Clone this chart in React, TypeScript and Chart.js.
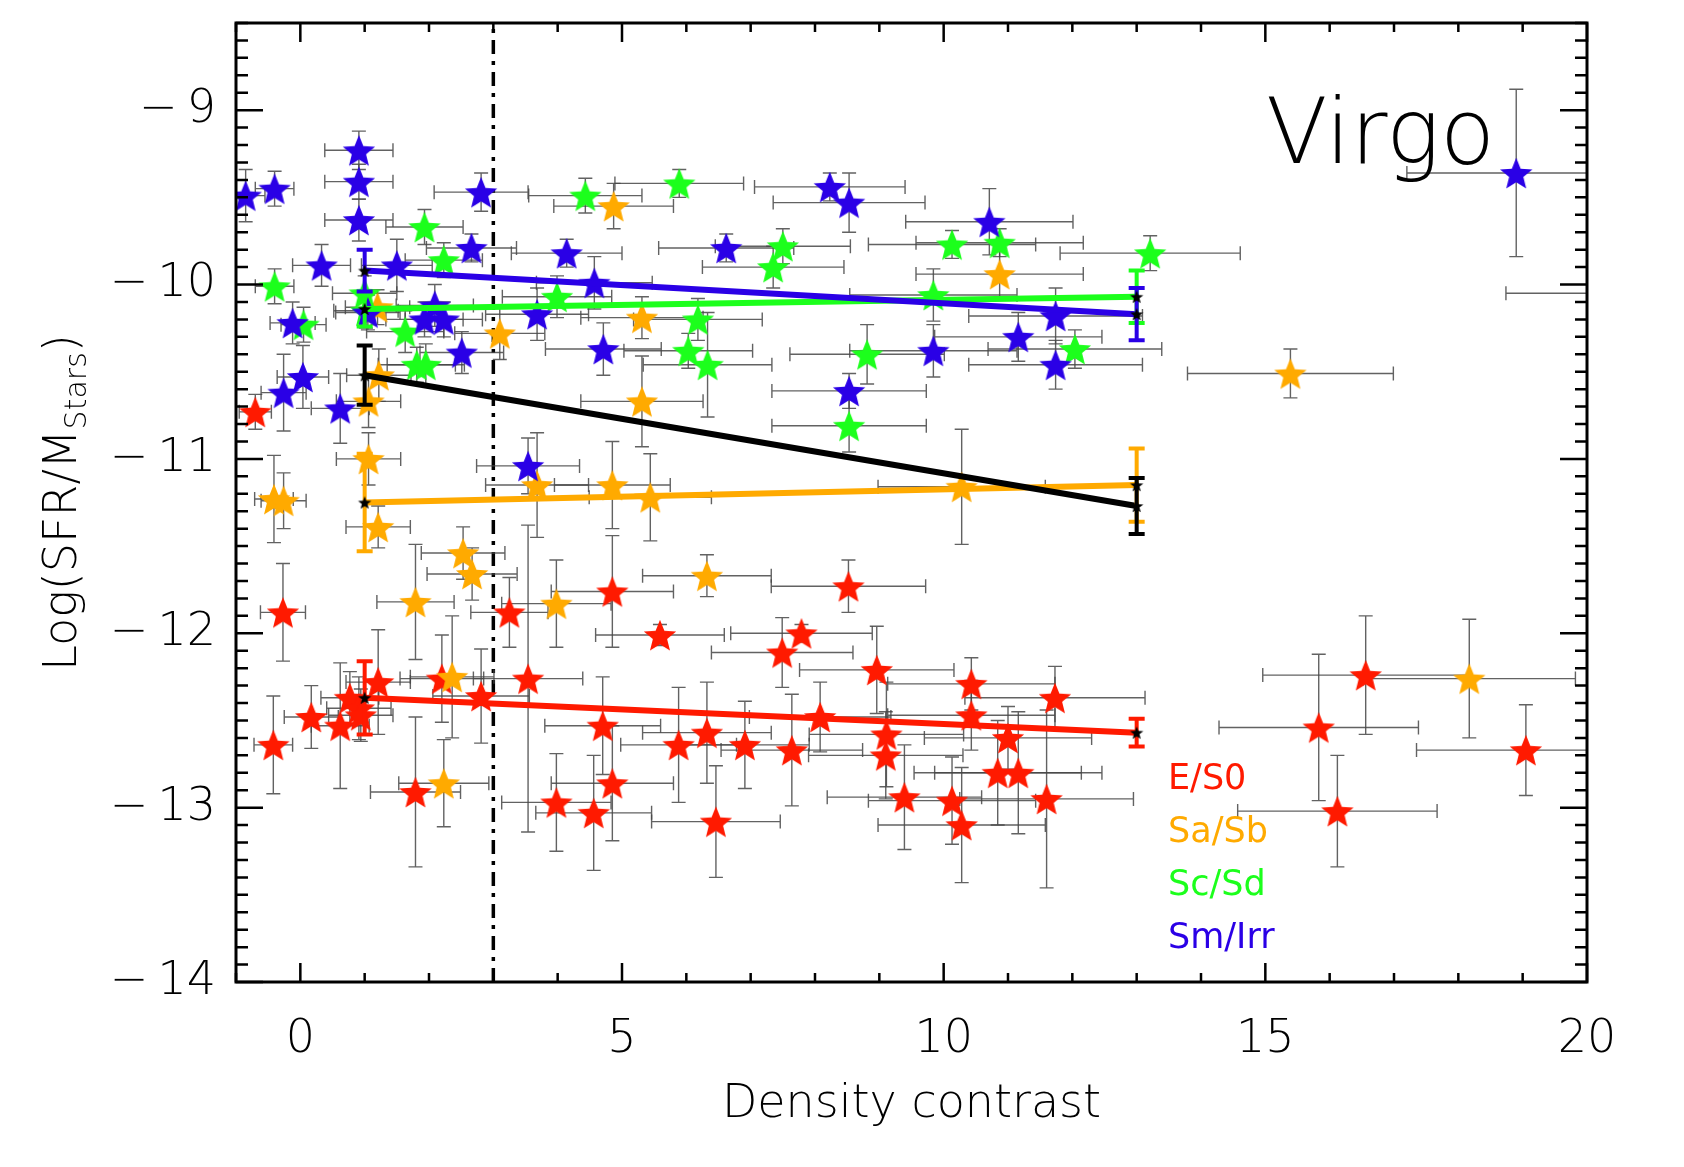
import React, { useEffect, useRef } from 'react';
import { Chart, registerables } from 'chart.js';

Chart.register(...registerables);

// [density contrast, log(SFR/M*), x error, y error]
type Pt = [number, number, number, number];

const E_S0: Pt[] = [
  [-0.70, -10.73, 0.25, 0.10], [-0.27, -11.88, 0.35, 0.28], [-0.42, -12.64, 0.30, 0.28],
  [0.17, -12.48, 0.42, 0.18], [0.62, -12.53, 0.45, 0.36], [0.77, -12.37, 0.45, 0.15],
  [0.91, -12.43, 0.50, 0.18], [0.94, -12.47, 0.50, 0.15], [1.21, -12.28, 0.50, 0.30],
  [2.20, -12.26, 0.65, 0.25], [2.81, -12.36, 0.75, 0.27], [1.79, -12.91, 0.70, 0.43],
  [3.25, -11.88, 0.60, 0.20], [3.54, -12.26, 0.85, 0.88], [4.85, -11.76, 0.95, 0.32],
  [5.59, -12.01, 1.00, 0.06], [4.70, -12.53, 0.90, 0.28], [4.85, -12.86, 0.95, 0.33],
  [3.98, -12.97, 0.85, 0.28], [4.56, -13.03, 0.90, 0.33], [5.88, -12.64, 0.90, 0.33],
  [6.32, -12.57, 1.00, 0.29], [6.91, -12.64, 1.00, 0.25], [6.46, -13.08, 1.00, 0.32],
  [8.52, -11.73, 1.20, 0.15], [7.79, -12.00, 1.10, 0.05], [7.49, -12.11, 1.10, 0.20],
  [8.96, -12.21, 1.20, 0.25], [10.43, -12.29, 1.30, 0.15], [11.73, -12.37, 1.40, 0.18],
  [8.08, -12.48, 1.10, 0.20], [10.43, -12.47, 1.30, 0.20], [9.11, -12.58, 1.20, 0.30],
  [11.00, -12.60, 1.30, 0.18], [7.64, -12.67, 1.10, 0.32], [9.10, -12.70, 1.20, 0.25],
  [10.84, -12.80, 1.30, 0.30], [11.16, -12.80, 1.30, 0.35], [9.39, -12.94, 1.20, 0.30],
  [10.13, -12.96, 1.30, 0.25], [11.60, -12.95, 1.35, 0.51], [10.28, -13.10, 1.30, 0.33],
  [16.56, -12.24, 1.60, 0.34], [15.83, -12.54, 1.55, 0.42], [16.12, -13.02, 1.55, 0.32],
  [19.05, -12.67, 1.70, 0.26],
];

const SA_SB: Pt[] = [
  [-0.41, -11.23, 0.30, 0.25], [-0.26, -11.24, 0.35, 0.16], [1.06, -11.00, 0.50, 0.15],
  [1.21, -11.39, 0.50, 0.12], [2.53, -11.54, 0.65, 0.15], [2.67, -11.66, 0.70, 0.15],
  [1.79, -11.82, 0.60, 0.33], [3.98, -11.83, 0.85, 0.25], [6.32, -11.67, 1.00, 0.12],
  [2.36, -12.25, 0.65, 0.35], [2.23, -12.86, 0.70, 0.25], [3.68, -11.15, 0.80, 0.30],
  [4.85, -11.15, 0.90, 0.25], [5.44, -11.22, 0.95, 0.25], [10.28, -11.16, 1.30, 0.33],
  [4.87, -9.55, 0.93, 0.13], [3.10, -10.28, 0.70, 0.15], [5.31, -10.19, 0.95, 0.12],
  [5.31, -10.67, 0.95, 0.26], [1.20, -10.13, 0.50, 0.10], [1.22, -10.52, 0.50, 0.15],
  [1.06, -10.67, 0.50, 0.15], [10.87, -9.94, 1.30, 0.15], [15.39, -10.51, 1.60, 0.14],
  [18.17, -12.26, 1.65, 0.34],
];

const SC_SD: Pt[] = [
  [-0.40, -10.01, 0.30, 0.10], [0.05, -10.23, 0.35, 0.10], [1.93, -9.67, 0.60, 0.10],
  [2.23, -9.86, 0.60, 0.10], [1.00, -10.05, 0.50, 0.10], [1.02, -10.15, 0.50, 0.10],
  [1.63, -10.27, 0.60, 0.12], [1.81, -10.46, 0.60, 0.10], [1.95, -10.46, 0.60, 0.12],
  [4.43, -9.49, 0.88, 0.10], [5.89, -9.42, 1.00, 0.08], [7.50, -9.78, 1.05, 0.10],
  [7.35, -9.90, 1.10, 0.12], [3.99, -10.07, 0.85, 0.12], [6.18, -10.20, 1.00, 0.12],
  [6.03, -10.38, 1.00, 0.10], [6.33, -10.46, 1.00, 0.30], [8.81, -10.40, 1.20, 0.17],
  [8.53, -10.81, 1.20, 0.15], [9.84, -10.06, 1.30, 0.15], [10.13, -9.77, 1.30, 0.08],
  [10.87, -9.76, 1.30, 0.08], [13.21, -9.82, 1.40, 0.10], [12.04, -10.37, 1.35, 0.11],
];

const SM_IRR: Pt[] = [
  [-0.85, -9.49, 0.30, 0.15], [-0.40, -9.45, 0.30, 0.10], [0.91, -9.23, 0.53, 0.11],
  [0.91, -9.41, 0.53, 0.10], [0.91, -9.63, 0.53, 0.12], [2.81, -9.47, 0.73, 0.11],
  [2.66, -9.79, 0.70, 0.08], [0.33, -9.89, 0.45, 0.12], [1.50, -9.89, 0.55, 0.15],
  [1.05, -10.16, 0.50, 0.10], [-0.12, -10.22, 0.35, 0.12], [2.09, -10.12, 0.60, 0.12],
  [1.93, -10.20, 0.60, 0.10], [2.23, -10.20, 0.60, 0.10], [2.51, -10.39, 0.65, 0.12],
  [0.04, -10.53, 0.40, 0.18], [-0.26, -10.62, 0.35, 0.22], [0.62, -10.71, 0.45, 0.20],
  [3.54, -11.04, 0.80, 0.16], [3.68, -10.17, 0.80, 0.15], [4.14, -9.82, 0.86, 0.08],
  [4.57, -9.99, 0.90, 0.15], [4.71, -10.37, 0.90, 0.15], [6.62, -9.79, 1.05, 0.08],
  [8.23, -9.44, 1.17, 0.08], [8.53, -9.53, 1.18, 0.17], [8.53, -10.61, 1.20, 0.10],
  [9.84, -10.38, 1.30, 0.15], [10.71, -9.64, 1.30, 0.19], [11.74, -10.18, 1.35, 0.16],
  [11.16, -10.30, 1.30, 0.14], [11.74, -10.46, 1.35, 0.14], [18.90, -9.36, 1.70, 0.48],
  [20.60, -10.05, 1.86, 0.00],
];

// Mean trends at the two density bins
const FIT_X = [1, 13];
const FIT_E_S0 = [-12.37, -12.57];
const FIT_E_S0_ERR = [0.21, 0.08];
const FIT_SA_SB = [-11.25, -11.15];
const FIT_SA_SB_ERR = [0.28, 0.21];
const FIT_SC_SD = [-10.14, -10.07];
const FIT_SC_SD_ERR = [0.10, 0.15];
const FIT_SM_IRR = [-9.92, -10.17];
const FIT_SM_IRR_ERR = [0.12, 0.15];
const FIT_ALL = [-10.52, -11.27];
const FIT_ALL_ERR = [0.17, 0.16];

const X_TICKS = [0, 5, 10, 15, 20];
const Y_TICKS = [-14, -13, -12, -11, -10, -9];
const X_RANGE = [-1, 20];
const Y_RANGE = [-14, -8.5];
const DIVIDER_X = 3;
const LEGEND_LABELS = ['E/S0', 'Sa/Sb', 'Sc/Sd', 'Sm/Irr'];
const PANEL_LABEL = 'Virgo';
const X_TITLE = 'Density contrast';

const RED = '#ff1a00';
const ORANGE = '#ffaa00';
const GREEN = '#1cff1c';
const BLUE = '#2a00e6';
const COLORS = [RED, ORANGE, GREEN, BLUE];
const FONT = '"DejaVu Sans", "Liberation Sans", sans-serif';

function makeStar(color: string, r: number, inner: number): HTMLCanvasElement {
  const s = Math.ceil(r * 2) + 2;
  const c = document.createElement('canvas');
  c.width = s;
  c.height = s;
  const g = c.getContext('2d')!;
  g.fillStyle = color;
  g.beginPath();
  const cx = s / 2;
  const cy = s / 2 + r * 0.1;
  for (let i = 0; i < 10; i++) {
    const a = -Math.PI / 2 + (i * Math.PI) / 5;
    const rr = i % 2 === 0 ? r : r * inner;
    const px = cx + rr * Math.cos(a);
    const py = cy + rr * Math.sin(a);
    if (i === 0) g.moveTo(px, py);
    else g.lineTo(px, py);
  }
  g.closePath();
  g.fill();
  return c;
}

const SERIES = [E_S0, SA_SB, SC_SD, SM_IRR];
const FITS: [number[], number[], string][] = [
  [FIT_E_S0, FIT_E_S0_ERR, RED],
  [FIT_SA_SB, FIT_SA_SB_ERR, ORANGE],
  [FIT_SC_SD, FIT_SC_SD_ERR, GREEN],
  [FIT_SM_IRR, FIT_SM_IRR_ERR, BLUE],
  [FIT_ALL, FIT_ALL_ERR, '#000000'],
];

const decorPlugin = {
  id: 'decor',
  beforeDatasetsDraw(chart: any) {
    const { ctx, chartArea: a, scales } = chart;
    const x = scales.x;
    const y = scales.y;
    ctx.save();
    ctx.beginPath();
    ctx.rect(a.left, a.top, a.right - a.left, a.bottom - a.top);
    ctx.clip();
    // dash-dot divider
    ctx.strokeStyle = '#000';
    ctx.lineWidth = 3.5;
    ctx.setLineDash([14, 7, 4, 7]);
    const dx = x.getPixelForValue(DIVIDER_X);
    ctx.beginPath();
    ctx.moveTo(dx, a.bottom);
    ctx.lineTo(dx, a.top);
    ctx.stroke();
    ctx.setLineDash([]);
    // grey error bars
    ctx.strokeStyle = 'rgba(70,70,70,0.85)';
    ctx.lineWidth = 1.4;
    const cap = 7;
    for (const series of SERIES) {
      for (const [vx, vy, ex, ey] of series) {
        const px = x.getPixelForValue(vx);
        const py = y.getPixelForValue(vy);
        const x0 = x.getPixelForValue(vx - ex);
        const x1 = x.getPixelForValue(vx + ex);
        const y0 = y.getPixelForValue(vy - ey);
        const y1 = y.getPixelForValue(vy + ey);
        ctx.beginPath();
        ctx.moveTo(x0, py); ctx.lineTo(x1, py);
        ctx.moveTo(x0, py - cap); ctx.lineTo(x0, py + cap);
        ctx.moveTo(x1, py - cap); ctx.lineTo(x1, py + cap);
        if (ey > 0) {
          ctx.moveTo(px, y0); ctx.lineTo(px, y1);
          ctx.moveTo(px - cap, y0); ctx.lineTo(px + cap, y0);
          ctx.moveTo(px - cap, y1); ctx.lineTo(px + cap, y1);
        }
        ctx.stroke();
      }
    }
    ctx.restore();
  },
  beforeDatasetDraw(chart: any, args: any) {
    if (chart.data.datasets[args.index].label !== 'means') return;
    const { ctx, scales } = chart;
    const x = scales.x;
    const y = scales.y;
    ctx.save();
    ctx.lineWidth = 4;
    for (const [vals, errs, color] of FITS) {
      ctx.strokeStyle = color;
      FIT_X.forEach((vx, i) => {
        const px = x.getPixelForValue(vx);
        const y0 = y.getPixelForValue(vals[i] - errs[i]);
        const y1 = y.getPixelForValue(vals[i] + errs[i]);
        ctx.beginPath();
        ctx.moveTo(px, y0); ctx.lineTo(px, y1);
        ctx.moveTo(px - 8, y0); ctx.lineTo(px + 8, y0);
        ctx.moveTo(px - 8, y1); ctx.lineTo(px + 8, y1);
        ctx.stroke();
      });
    }
    ctx.restore();
  },
  afterDatasetsDraw(chart: any) {
    const { ctx, chartArea: a, scales } = chart;
    const x = scales.x;
    const y = scales.y;
    ctx.save();
    ctx.strokeStyle = '#000';
    ctx.lineWidth = 2.5;
    ctx.beginPath();
    for (let v = X_RANGE[0]; v <= X_RANGE[1]; v += 1) {
      const px = x.getPixelForValue(v);
      const len = v % 5 === 0 ? 19 : 9;
      ctx.moveTo(px, a.bottom); ctx.lineTo(px, a.bottom - len);
      ctx.moveTo(px, a.top); ctx.lineTo(px, a.top + len);
    }
    const nY = Math.round((Y_RANGE[1] - Y_RANGE[0]) * 10);
    for (let i = 0; i <= nY; i++) {
      const v = Y_RANGE[0] + i / 10;
      const py = y.getPixelForValue(v);
      const len = i % 10 === 0 ? 27 : 12;
      ctx.moveTo(a.left, py); ctx.lineTo(a.left + len, py);
      ctx.moveTo(a.right, py); ctx.lineTo(a.right - len, py);
    }
    ctx.stroke();
    ctx.lineWidth = 3;
    ctx.strokeRect(a.left, a.top, a.right - a.left, a.bottom - a.top);
    ctx.restore();
  },
  afterDraw(chart: any) {
    const { ctx, chartArea: a } = chart;
    ctx.save();
    ctx.fillStyle = '#000';
    // x title
    ctx.font = `200 46px ${FONT}`;
    ctx.textAlign = 'center';
    ctx.textBaseline = 'alphabetic';
    ctx.fillText(X_TITLE, (a.left + a.right) / 2, a.bottom + 135);
    // y title with subscript
    const main1 = 'Log(SFR/M';
    const sub = 'Stars';
    const main2 = ')';
    const mainFont = `200 46px ${FONT}`;
    const subFont = `200 30px ${FONT}`;
    ctx.font = mainFont;
    const w1 = ctx.measureText(main1).width;
    const w3 = ctx.measureText(main2).width;
    ctx.font = subFont;
    const w2 = ctx.measureText(sub).width;
    const total = w1 + w2 + w3;
    ctx.translate(76, (a.top + a.bottom) / 2);
    ctx.rotate(-Math.PI / 2);
    ctx.textAlign = 'left';
    let cx = -total / 2;
    ctx.font = mainFont;
    ctx.fillText(main1, cx, 0);
    cx += w1;
    ctx.font = subFont;
    ctx.fillText(sub, cx, 10);
    cx += w2;
    ctx.font = mainFont;
    ctx.fillText(main2, cx, 0);
    ctx.setTransform(1, 0, 0, 1, 0, 0);
    // panel label
    ctx.font = `200 90px ${FONT}`;
    ctx.textAlign = 'left';
    ctx.fillText(PANEL_LABEL, a.right - 321, a.top + 140);
    // legend
    ctx.font = `35px ${FONT}`;
    LEGEND_LABELS.forEach((lab, i) => {
      ctx.fillStyle = COLORS[i];
      ctx.fillText(lab, a.left + 932, a.top + 766 + i * 53);
    });
    ctx.restore();
  },
};

export default function App() {
  const ref = useRef<HTMLCanvasElement | null>(null);
  useEffect(() => {
    if (!ref.current) return;
    const stars = COLORS.map((c) => makeStar(c, 17, 0.44));
    const blackStar = makeStar('#000000', 7, 0.42);
    const toXY = (p: Pt) => ({ x: p[0], y: p[1] });
    const scatterSets = SERIES.map((s, i) => ({
      type: 'scatter' as const,
      label: LEGEND_LABELS[i],
      data: s.map(toXY),
      pointStyle: stars[i],
      pointRadius: 15,
      showLine: false,
      order: 10 - i,
      clip: 0,
    }));
    const lineSets = FITS.map(([vals, , color], i) => ({
      type: 'line' as const,
      label: 'fit' + i,
      data: FIT_X.map((vx, j) => ({ x: vx, y: vals[j] })),
      borderColor: color,
      borderWidth: 6,
      pointRadius: 0,
      showLine: true,
      fill: false,
      order: 5 - i * 0.1,
      clip: 0,
    }));
    const meanPts: { x: number; y: number }[] = [];
    FITS.forEach(([vals]) => FIT_X.forEach((vx, j) => meanPts.push({ x: vx, y: vals[j] })));
    const meansSet = {
      type: 'scatter' as const,
      label: 'means',
      data: meanPts,
      pointStyle: blackStar,
      pointRadius: 7,
      showLine: false,
      order: 1,
      clip: 0,
    };
    const chart = new Chart(ref.current, {
      type: 'scatter',
      data: { datasets: [...scatterSets, ...lineSets, meansSet] as any },
      options: {
        animation: false,
        responsive: false,
        devicePixelRatio: 1,
        events: [],
        layout: { padding: { left: 0, right: 97, top: 23, bottom: 0 } },
        plugins: { legend: { display: false }, tooltip: { enabled: false } },
        scales: {
          x: {
            type: 'linear',
            min: X_RANGE[0],
            max: X_RANGE[1],
            grid: { display: false, drawTicks: false },
            border: { display: false },
            afterBuildTicks: (s: any) => { s.ticks = X_TICKS.map((v) => ({ value: v })); },
            afterFit: (s: any) => { s.height = 185; s.paddingLeft = 0; s.paddingRight = 0; },
            ticks: {
              autoSkip: false,
              maxRotation: 0,
              padding: 30,
              color: '#000',
              font: { family: FONT, size: 46, weight: 200 as any },
              callback: (v: any) => String(v),
            },
          },
          y: {
            type: 'linear',
            min: Y_RANGE[0],
            max: Y_RANGE[1],
            grid: { display: false, drawTicks: false },
            border: { display: false },
            afterBuildTicks: (s: any) => { s.ticks = Y_TICKS.map((v) => ({ value: v })); },
            afterFit: (s: any) => { s.width = 236; s.paddingTop = 0; s.paddingBottom = 0; },
            ticks: {
              autoSkip: false,
              padding: 20,
              color: '#000',
              font: { family: FONT, size: 46, weight: 200 as any },
              callback: (v: any) => '\u2212\u2009' + String(Math.abs(v)),
            },
          },
        },
      },
      plugins: [decorPlugin as any],
    });
    return () => chart.destroy();
  }, []);
  return (
    <div style={{ position: 'absolute', left: 0, top: 0, width: 1684, height: 1167, background: '#fff' }}>
      <canvas ref={ref} width={1684} height={1167} style={{ display: 'block' }} />
    </div>
  );
}
